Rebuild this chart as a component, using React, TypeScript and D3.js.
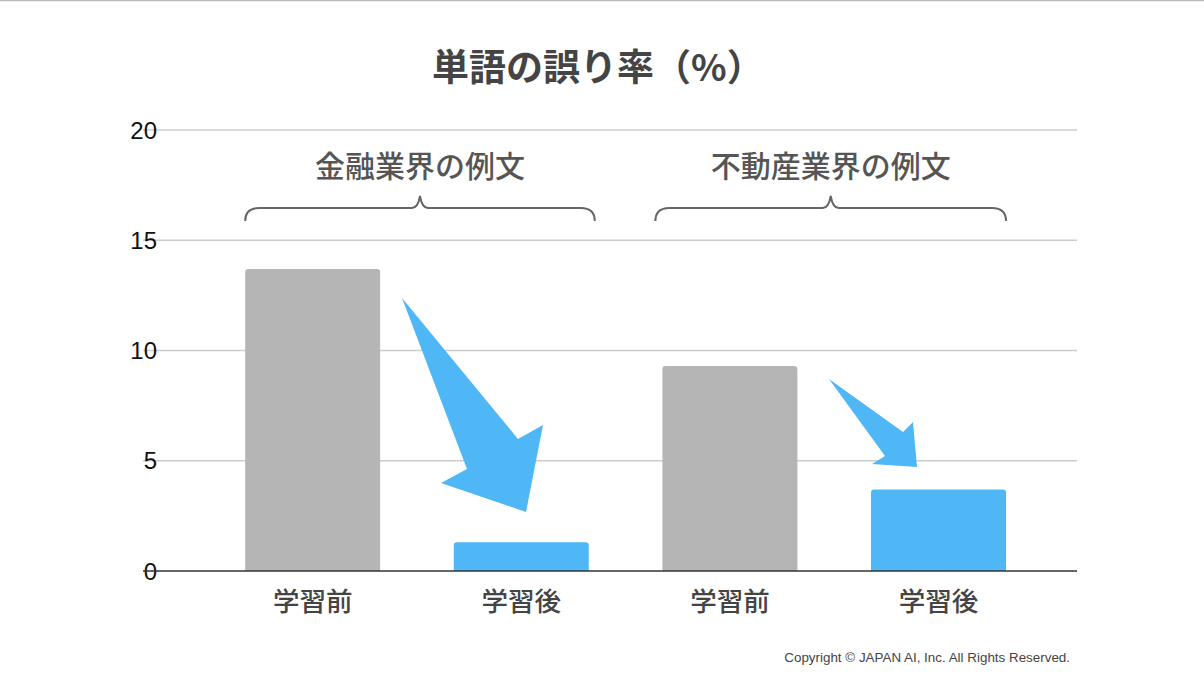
import React, { useEffect, useRef } from "react";
import * as d3 from "d3";

const categories = ["金融-前", "金融-後", "不動産-前", "不動産-後"];
const categoryLabels = ["学習前", "学習後", "学習前", "学習後"];
const values = [13.7, 1.3, 9.3, 3.7];
const barColors = ["#b5b5b5", "#4fb7f6", "#b5b5b5", "#4fb7f6"];
const yTicks = [0, 5, 10, 15, 20];
const groupLabels = ["金融業界の例文", "不動産業界の例文"];
const groupSpans = [["金融-前", "金融-後"], ["不動産-前", "不動産-後"]];
const title = "単語の誤り率（%）";
const copyright = "Copyright © JAPAN AI, Inc. All Rights Reserved.";
// decorative annotation arrows (pixel polygons)
const arrowShapes = [
  [[402, 298], [518, 439], [543, 425], [526, 512], [441, 483], [467, 469]],
  [[829, 379], [903, 432], [913, 422], [917, 467], [872, 464], [885, 456]],
];

const W = 1204, H = 678;
const plotLeft = 143, plotRight = 1077, plotTop = 130, plotBottom = 571;
const FONT = "'Noto Sans CJK JP', 'Noto Sans', sans-serif";
const braceOffsets = [[0, 6], [-7, 0]];

export default function App() {
  const ref = useRef<SVGSVGElement>(null);
  useEffect(() => {
    const svg = d3.select(ref.current);
    svg.selectAll("*").remove();

    const x = d3.scaleBand<string>().domain(categories).range([plotLeft, plotRight])
      .paddingInner(0.353).paddingOuter(0.415).align(0.59);
    const y = d3.scaleLinear().domain([0, 20]).range([plotBottom, plotTop]);

    svg.append("rect").attr("width", W).attr("height", H).attr("fill", "#fff");
    svg.append("line").attr("x1", 0).attr("x2", W).attr("y1", 0.5).attr("y2", 0.5)
      .attr("stroke", "#bbb").attr("stroke-width", 1.5);

    // gridlines
    svg.append("g").selectAll("line").data(yTicks.filter(t => t > 0)).join("line")
      .attr("x1", plotLeft).attr("x2", plotRight)
      .attr("y1", d => y(d)).attr("y2", d => y(d))
      .attr("stroke", "#cccccc").attr("stroke-width", 1.3);

    // y tick labels
    svg.append("g").selectAll("text").data(yTicks).join("text")
      .attr("x", 157).attr("y", d => y(d)).attr("dy", "0.36em")
      .attr("text-anchor", "end").attr("font-family", "Arial, 'Liberation Sans', sans-serif")
      .attr("font-size", 24).attr("fill", "#111").text(d => String(d));

    // bars
    const r = 3;
    svg.append("g").selectAll("path").data(values).join("path")
      .attr("d", (d, i) => {
        const x0 = x(categories[i])!, w = x.bandwidth();
        const yt = y(d), yb = y(0);
        return `M${x0},${yb} L${x0},${yt + r} Q${x0},${yt} ${x0 + r},${yt} L${x0 + w - r},${yt} Q${x0 + w},${yt} ${x0 + w},${yt + r} L${x0 + w},${yb} Z`;
      })
      .attr("fill", (d, i) => barColors[i]);

    // baseline
    svg.append("line").attr("x1", plotLeft).attr("x2", plotRight)
      .attr("y1", plotBottom).attr("y2", plotBottom).attr("stroke", "#333").attr("stroke-width", 1.5);

    // category labels
    svg.append("g").selectAll("text").data(categoryLabels).join("text")
      .attr("x", (d, i) => x(categories[i])! + x.bandwidth() / 2)
      .attr("y", 611).attr("text-anchor", "middle")
      .attr("font-family", FONT).attr("font-weight", 500)
      .attr("font-size", 26.5).attr("fill", "#444").text(d => d);

    // arrows
    svg.append("g").selectAll("polygon").data(arrowShapes).join("polygon")
      .attr("points", d => d.map(p => p.join(",")).join(" "))
      .attr("fill", "#4fb7f6");

    // braces + group labels
    groupSpans.forEach((span, gi) => {
      const xl = x(span[0])! + braceOffsets[gi][0];
      const xr = x(span[1])! + x.bandwidth() + braceOffsets[gi][1];
      const xm = (xl + xr) / 2;
      const yb = 208, yEnd = 221, yPeak = 196, rr = 10;
      const p = `M${xl},${yEnd} Q${xl},${yb} ${xl + rr + 4},${yb} L${xm - 8},${yb} Q${xm - 2},${yb} ${xm},${yPeak} Q${xm + 2},${yb} ${xm + 8},${yb} L${xr - rr - 4},${yb} Q${xr},${yb} ${xr},${yEnd}`;
      svg.append("path").attr("d", p).attr("fill", "none").attr("stroke", "#666").attr("stroke-width", 2);
      svg.append("text").attr("x", xm).attr("y", 177).attr("text-anchor", "middle")
        .attr("font-family", FONT).attr("font-weight", 500).attr("font-size", 30)
        .attr("fill", "#555").text(groupLabels[gi]);
    });

    // title
    svg.append("text").attr("x", 432).attr("y", 81).attr("text-anchor", "start")
      .attr("font-family", FONT).attr("font-weight", 700).attr("font-size", 37)
      .attr("fill", "#444").text(title);

    // copyright
    svg.append("text").attr("x", 1070).attr("y", 662).attr("text-anchor", "end")
      .attr("font-family", "Arial, 'Liberation Sans', sans-serif").attr("font-size", 13.4)
      .attr("fill", "#444").text(copyright);
  }, []);
  return (
    <svg ref={ref} width={W} height={H}
      style={{ position: "absolute", left: 0, top: 0, display: "block" }} />
  );
}
